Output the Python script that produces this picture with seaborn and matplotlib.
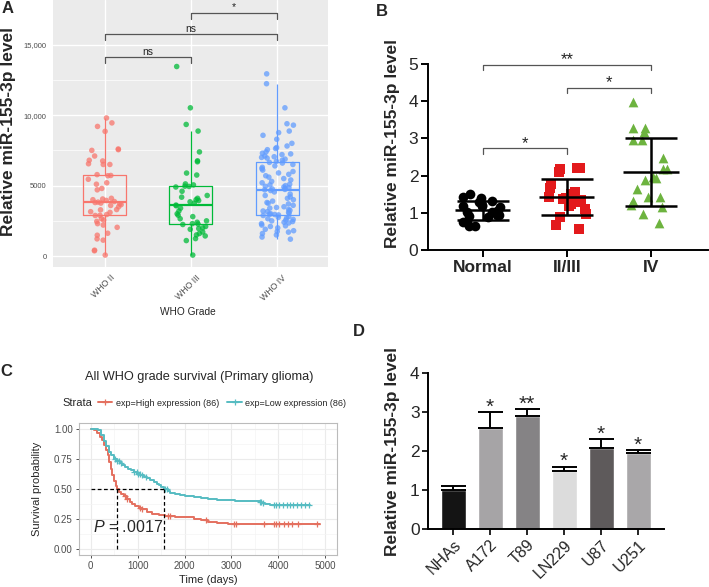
import numpy as np
import pandas as pd
import seaborn as sns
import matplotlib.pyplot as plt
import matplotlib.transforms as mtransforms
from matplotlib.lines import Line2D

sns.set_style('white')
plt.rcParams['font.family'] = ['Liberation Sans', 'DejaVu Sans']
plt.rcParams['mathtext.fontset'] = 'custom'
plt.rcParams['mathtext.it'] = 'Liberation Sans:italic'
plt.rcParams['mathtext.rm'] = 'Liberation Sans'

# ---------------- data ----------------
# A: miR-155-3p by WHO grade
grades = ['WHO II', 'WHO III', 'WHO IV']
who2 = [9800, 9450, 9200, 8850, 7600, 7550, 7500, 7100, 6800, 6750, 6550, 6500, 6500, 5780, 5720,
        5700, 5450, 5200, 5100, 4800, 4700, 4100, 4050, 4000, 3950, 3870, 3830,
        3800, 3760, 3710, 3650, 3590, 3500, 3300, 3280, 3150, 3100, 2950, 2890,
        2880, 2650, 2560, 2460, 2300, 2200, 2040, 1620, 1480, 1220, 1130, 420, 375, 70]
who3 = [13450, 10520, 9340, 8870, 7390, 6760, 6690, 5890, 5750, 5120, 5050, 4960, 4940,
        4900, 4600, 4300, 4180, 4100, 4000, 3940, 3850, 3750, 3620, 3570,
        3400, 3200, 3000, 2900, 2800, 2650, 2500, 2400, 2300, 2270, 2240,
        2100, 2000, 1950, 1900, 1710, 1600, 1500, 1430, 1240, 1100, 70]
who4 = [12930, 12230, 10520, 9390, 9290, 8870, 8760, 8570, 8290, 8000, 7810, 7700, 7630, 7550,
        7390, 7300, 7250, 7200, 7100, 7050, 7000, 6950, 6880, 6800, 6720,
        6650, 6600, 6500, 6400, 6300, 6200, 6100, 6000, 5900, 5800, 5700, 5600, 5500, 5400,
        5300, 5200, 5100, 5050, 5000, 4950, 4900, 4850, 4800, 4760, 4730,
        4700, 4650, 4550, 4400, 4300, 4200, 4100, 4000, 3900, 3800, 3750, 3700, 3600, 3500,
        3450, 3400, 3300, 3250, 3200, 3150, 3100, 3050, 3000, 2980, 2950,
        2920, 2880, 2800, 2750, 2700, 2650, 2600, 2550, 2500, 2450, 2400, 2350, 2300, 2200,
        2150, 2100, 2000, 1900, 1800, 1750, 1700, 1600, 1500, 1350, 1200]
grade_colors = ['#F8766D', '#00BA38', '#619CFF']

# B: tissue groups
b_groups = ['Normal', 'II/III', 'IV']
b_normal = [1.50, 1.42, 1.40, 1.33, 1.30, 1.20, 1.18, 1.18, 1.15, 1.05,
            1.03, 1.03, 0.95, 0.94, 0.92, 0.90, 0.76, 0.75, 0.65, 0.65]
b_g23 = [2.20, 2.20, 2.18, 2.09, 1.77, 1.66, 1.55, 1.50, 1.43, 1.40,
         1.38, 1.34, 1.30, 1.25, 1.18, 1.09, 0.97, 0.88, 0.67, 0.56]
b_g4 = [3.99, 3.29, 3.29, 3.16, 2.97, 2.97, 2.46, 2.18, 2.18, 1.97,
        1.93, 1.88, 1.63, 1.42, 1.42, 1.32, 1.21, 1.16, 0.96, 0.73]
b_colors = ['black', '#E31A1C', '#6DB33F']
b_markers = ['o', 's', '^']

# C: Kaplan-Meier steps
high_t = [0, 70, 141, 200, 247, 290, 332, 360, 389, 425, 460, 495, 530, 565, 600, 650, 707, 780,
          840, 884, 950, 1020, 1096, 1200, 1308, 1450, 1591, 1800, 2015, 2200, 2350, 2510, 2700,
          2935, 4879]
high_s = [1.0, 0.99, 0.964, 0.935, 0.908, 0.865, 0.824, 0.78, 0.725, 0.67, 0.613, 0.57, 0.529,
          0.5, 0.475, 0.46, 0.445, 0.42, 0.395, 0.375, 0.36, 0.345, 0.333, 0.31, 0.291, 0.283,
          0.277, 0.27, 0.263, 0.25, 0.24, 0.227, 0.215, 0.208, 0.208]
low_t = [0, 160, 210, 280, 330, 390, 440, 495, 560, 620, 672, 740, 800, 849, 920, 990, 1061, 1140,
         1200, 1273, 1350, 1420, 1450, 1500, 1556, 1650, 1697, 1800, 1900, 2015, 2200, 2350, 2510,
         2700, 2900, 3076, 3600, 3650, 3720, 3818, 4667]
low_s = [1.0, 0.988, 0.95, 0.9, 0.86, 0.81, 0.78, 0.754, 0.73, 0.715, 0.703, 0.685, 0.67, 0.655,
         0.64, 0.625, 0.613, 0.6, 0.59, 0.571, 0.56, 0.545, 0.53, 0.515, 0.5, 0.485, 0.468, 0.46,
         0.452, 0.445, 0.435, 0.425, 0.417, 0.41, 0.406, 0.403, 0.395, 0.385, 0.376, 0.367, 0.367]
high_cens = [740, 780, 1040, 1100, 1650, 1700, 2450, 3050, 3100, 3700, 3900, 3960, 4020, 4120,
             4200, 4300, 4420, 4830]
low_cens = [520, 560, 600, 650, 930, 980, 1010, 1050, 1100, 1180, 1580, 1620, 3600, 3640, 3680,
            3900, 3960, 4020, 4100, 4180, 4250, 4320, 4400, 4480, 4560, 4650]
km_colors = ['#E4705F', '#56BCC2']
km_labels = ['exp=High expression (86)', 'exp=Low expression (86)']

# D: cell lines
cells = ['NHAs', 'A172', 'T89', 'LN229', 'U87', 'U251']
cell_vals = [1.0, 2.6, 2.9, 1.5, 2.07, 1.96]
cell_err = [0.11, 0.40, 0.18, 0.10, 0.23, 0.07]
cell_sig = ['', '*', '**', '*', '*', '*']
cell_colors = ['#141414', '#a6a4a6', '#858385', '#dcdcdc', '#5e5a5b', '#a9a7a9']

W, H = 709, 587
fig = plt.figure(figsize=(W / 100, H / 100), dpi=100)


def fx(px):
    return px / W


def fy(py):
    return 1 - py / H


def bracket(ax, x1, x2, y, drop, text, fs, color='#555555', lw=0.9, gap=0.0):
    ax.plot([x1, x1, x2, x2], [y - drop, y, y, y - drop], color=color, lw=lw, clip_on=False)
    ax.text((x1 + x2) / 2, y + gap, text, ha='center', va='bottom', fontsize=fs,
            color='#222222', clip_on=False)


# ---------------- A ----------------
axA = fig.add_axes([fx(53), fy(267), fx(328 - 53), (267) / H])
dfA = pd.DataFrame({'grade': ['WHO II'] * len(who2) + ['WHO III'] * len(who3) + ['WHO IV'] * len(who4),
                    'level': who2 + who3 + who4})
palA = dict(zip(grades, grade_colors))
axA.set_facecolor('#EBEBEB')
sns.boxplot(data=dfA, x='grade', y='level', hue='grade', order=grades, palette=palA,
            fill=False, saturation=1, width=0.5, linewidth=0.9, showfliers=False,
            showcaps=False, medianprops={'linewidth': 1.6}, legend=False, ax=axA)
np.random.seed(3)
sns.stripplot(data=dfA, x='grade', y='level', hue='grade', order=grades, palette=palA,
              jitter=0.2, size=4, alpha=0.75, legend=False, ax=axA, zorder=3)
axA.set_xlim(-0.6, 2.59)
axA.set_ylim(-775, 18170)
axA.set_yticks([0, 5000, 10000, 15000])
axA.set_yticklabels(['0', '5000', '10,000', '15,000'])
axA.set_yticks([2500, 7500, 12500], minor=True)
axA.grid(True, which='major', color='white', lw=1.0)
axA.grid(True, which='minor', axis='y', color='white', lw=0.5)
axA.set_axisbelow(True)
for s in axA.spines.values():
    s.set_visible(False)
axA.tick_params(axis='both', which='major', length=2.5, width=0.6, color='#333333',
                labelsize=5.5, labelcolor='#4D4D4D', pad=2)
axA.tick_params(which='minor', length=0)
axA.set_xlabel('')
axA.set_ylabel('')
offset = mtransforms.ScaledTranslation(5 / 100, 0, fig.dpi_scale_trans)
for lab in axA.get_xticklabels():
    lab.set_rotation(45)
    lab.set_ha('right')
    lab.set_va('top')
    lab.set_rotation_mode('anchor')
    lab.set_fontsize(6.3)
    lab.set_transform(lab.get_transform() + offset)
bracket(axA, 0, 1, 14100, 420, 'ns', 7.5)
bracket(axA, 0, 2, 15730, 430, 'ns', 7.5)
bracket(axA, 1, 2, 17280, 430, '*', 7.5)
fig.text(fx(188), fy(312), 'WHO Grade', ha='center', va='center', fontsize=7.3)
fig.text(fx(9), fy(131), 'Relative miR-155-3p level', rotation=90, ha='center', va='center',
         fontsize=12.5, fontweight='bold')

# ---------------- B ----------------
axB = fig.add_axes([fx(428), fy(250), fx(708 - 428), (250 - 64) / H])
np.random.seed(11)
for grp, vals, col, mk in zip(b_groups, [b_normal, b_g23, b_g4], b_colors, b_markers):
    sub = pd.DataFrame({'group': grp, 'level': vals})
    sns.stripplot(data=sub, x='group', y='level', order=b_groups, color=col, marker=mk,
                  size=7, linewidth=0, jitter=0.24, ax=axB, zorder=2)
for i, vals in enumerate([b_normal, b_g23, b_g4]):
    m = np.mean(vals)
    sd = np.std(vals, ddof=1)
    axB.hlines(m, i - 0.33, i + 0.33, color='black', lw=1.8, zorder=4)
    axB.errorbar(i, m, yerr=sd, color='black', capsize=19, elinewidth=1.8, capthick=1.8,
                 fmt='none', zorder=4)
axB.set_xlim(-0.65, 2.68)
axB.set_ylim(0, 5)
axB.set_yticks([0, 1, 2, 3, 4, 5])
axB.set_xlabel('')
axB.set_ylabel('')
sns.despine(ax=axB)
for s in ['left', 'bottom']:
    axB.spines[s].set_linewidth(1.4)
    axB.spines[s].set_color('black')
axB.tick_params(axis='both', length=5, width=1.4, color='black', labelsize=12.5, pad=2,
                left=True, bottom=True)
for lab in axB.get_xticklabels():
    lab.set_fontweight('bold')
    lab.set_fontsize(12.5)
bracket(axB, 0, 2, 4.97, 0.14, '**', 12, gap=-0.06)
bracket(axB, 1, 2, 4.35, 0.14, '*', 12, gap=-0.06)
bracket(axB, 0, 1, 2.73, 0.14, '*', 12, gap=-0.06)
fig.text(fx(393), fy(143), 'Relative miR-155-3p level', rotation=90, ha='center', va='center',
         fontsize=12.5, fontweight='bold')

# ---------------- C ----------------
axC = fig.add_axes([fx(79), fy(555), fx(337 - 79), (555 - 423) / H])
for t, s, c in zip([high_t, low_t], [high_s, low_s], km_colors):
    sns.lineplot(x=t, y=s, drawstyle='steps-post', color=c, lw=1.4, ax=axC, sort=False)
for t, s, cens, c in zip([high_t, low_t], [high_s, low_s], [high_cens, low_cens], km_colors):
    idx = np.searchsorted(t, cens, side='right') - 1
    axC.plot(cens, np.array(s)[idx], ls='none', marker='+', ms=5, mew=0.9, color=c)
med_high = high_t[int(np.argmax(np.array(high_s) <= 0.5))]
med_low = low_t[int(np.argmax(np.array(low_s) <= 0.5))]
axC.plot([0, med_low], [0.5, 0.5], ls='--', color='black', lw=0.9, dashes=(3, 2))
axC.plot([med_high, med_high], [0, 0.5], ls='--', color='black', lw=0.9, dashes=(3, 2))
axC.plot([med_low, med_low], [0, 0.5], ls='--', color='black', lw=0.9, dashes=(3, 2))
axC.text(40, 0.185, r'$\it{P}$ = .0017', fontsize=11.5, va='center', ha='left')
axC.set_xlim(-250, 5250)
axC.set_ylim(-0.05, 1.05)
axC.set_xticks(range(0, 5001, 1000))
axC.set_xticks(range(500, 5000, 1000), minor=True)
axC.set_yticks([0, 0.25, 0.5, 0.75, 1.0])
axC.set_yticklabels(['0.00', '0.25', '0.50', '0.75', '1.00'])
axC.set_yticks([0.125, 0.375, 0.625, 0.875], minor=True)
axC.grid(True, which='major', color='#EBEBEB', lw=0.8)
axC.grid(True, which='minor', color='#F4F4F4', lw=0.5)
axC.set_axisbelow(True)
for s in axC.spines.values():
    s.set_color('#BBBBBB')
    s.set_linewidth(0.8)
axC.tick_params(axis='both', which='major', length=2.5, width=0.6, color='#333333',
                labelsize=7, labelcolor='#4D4D4D', pad=2, left=True, bottom=True)
axC.tick_params(which='minor', length=0)
fig.text(fx(208), fy(580), 'Time (days)', ha='center', va='center', fontsize=8)
fig.text(fx(37), fy(489), 'Survival probability', rotation=90, ha='center', va='center',
         fontsize=8)
fig.text(fx(199), fy(377), 'All WHO grade survival (Primary glioma)', ha='center',
         va='center', fontsize=9.2)
fig.text(fx(62), fy(403), 'Strata', ha='left', va='center', fontsize=8)
handles = [Line2D([], [], color=c, lw=1.4, marker='+', ms=5, mew=0.9) for c in km_colors]
fig.legend(handles, km_labels, loc='center left', bbox_to_anchor=(fx(98), fy(403)),
           ncol=2, frameon=False, fontsize=6.5, handlelength=1.6, handletextpad=0.4,
           columnspacing=0.9, borderpad=0, borderaxespad=0)

# ---------------- D ----------------
axD = fig.add_axes([fx(428), fy(529), fx(664 - 428), (529 - 373) / H])
sns.barplot(x=cells, y=cell_vals, hue=cells, order=cells, palette=dict(zip(cells, cell_colors)),
            saturation=1, width=0.68, legend=False, ax=axD)
axD.errorbar(range(len(cells)), cell_vals, yerr=[np.zeros(len(cells)), cell_err], fmt='none',
             ecolor='black', elinewidth=1.4, capsize=9, capthick=1.4)
for i, (v, e, sig) in enumerate(zip(cell_vals, cell_err, cell_sig)):
    axD.text(i, v + e - 0.12, sig, ha='center', va='bottom', fontsize=15, clip_on=False)
axD.set_xlim(-0.68, 5.7)
axD.set_ylim(0, 4)
axD.set_yticks([0, 1, 2, 3, 4])
sns.despine(ax=axD)
for s in ['left', 'bottom']:
    axD.spines[s].set_linewidth(1.4)
    axD.spines[s].set_color('black')
axD.tick_params(axis='both', length=4, width=1.2, color='black', labelsize=12.5, pad=2,
                left=True, bottom=True)
for lab in axD.get_xticklabels():
    lab.set_rotation(45)
    lab.set_ha('right')
    lab.set_va('top')
    lab.set_rotation_mode('anchor')
    lab.set_fontsize(11.5)
fig.text(fx(393), fy(452), 'Relative miR-155-3p level', rotation=90, ha='center', va='center',
         fontsize=12.5, fontweight='bold')

# panel letters
for letter, px, py in [('A', 2, 1), ('B', 376, 4), ('C', 0, 364), ('D', 353, 324)]:
    fig.text(fx(px), fy(py), letter, ha='left', va='top', fontsize=12, fontweight='bold')

fig.savefig('out.png', dpi=100)
